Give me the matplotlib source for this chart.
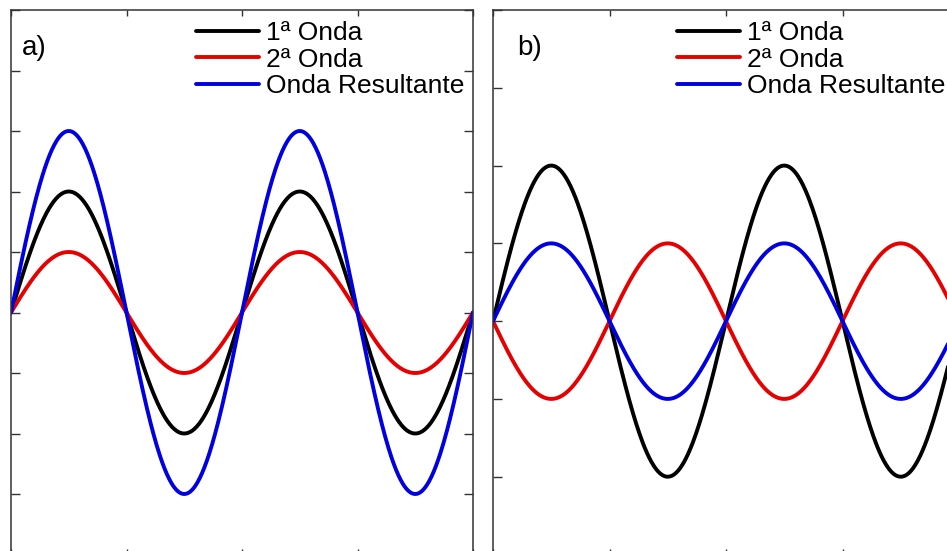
import numpy as np
import matplotlib.pyplot as plt

plt.rcParams['font.family'] = ['Liberation Sans', 'DejaVu Sans']

# wave parameters (amplitude in y-units, two periods per panel)
labels = ['1ª Onda', '2ª Onda', 'Onda Resultante']
colors = ['black', '#e60000', '#0000e0']
amp_a = [2, 1, 3]      # a) constructive
amp_b = [2, -1, 1]     # b) destructive
n_periods = 2
ylim_a = (-4, 5)
ylim_b = (-3, 4)

W, H = 947, 551
fig = plt.figure(figsize=(W / 100, H / 100), dpi=100)


def px_axes(x0, x1, y0, y1):
    """axes from pixel box (top-left origin)"""
    return fig.add_axes([x0 / W, 1 - y1 / H, (x1 - x0) / W, (y1 - y0) / H])


def panel(ax, amps, ylim, tag, tag_x, leg_x):
    x = np.linspace(0, n_periods, 600)
    for a, lab, c in zip(amps, labels, colors):
        ax.plot(x, a * np.sin(2 * np.pi * x), color=c, lw=2.8, label=lab,
                solid_capstyle='round')
    ax.set_xlim(0, n_periods)
    ax.set_ylim(*ylim)
    ax.set_yticks(np.arange(ylim[0], ylim[1] + 1))
    ax.set_xticks([0, 0.5, 1, 1.5, 2])
    ax.set_xticklabels([])
    ax.set_yticklabels([])
    ax.tick_params(axis='y', direction='in', left=True, right=True,
                   length=6.5, width=1, color='#333333')
    ax.tick_params(axis='x', direction='in', top=True, bottom=True,
                   length=4, width=1, color='#333333')
    for s in ax.spines.values():
        s.set_linewidth(1.1)
        s.set_color('#333333')
    ax.text(tag_x, 0.917, tag, transform=ax.transAxes, fontsize=20)
    ax.legend(loc='upper left', bbox_to_anchor=(leg_x, 0.980), frameon=False,
              fontsize=19, handlelength=2.4, handletextpad=0.25,
              labelspacing=0.1, borderpad=0, borderaxespad=0)


ax1 = px_axes(11, 473, 10, 554.5)
panel(ax1, amp_a, ylim_a, 'a)', 0.024, 0.400)

ax2 = px_axes(493, 959, 10, 554.5)
panel(ax2, amp_b, ylim_b, 'b)', 0.052, 0.395)

fig.savefig('out.png', dpi=100)
